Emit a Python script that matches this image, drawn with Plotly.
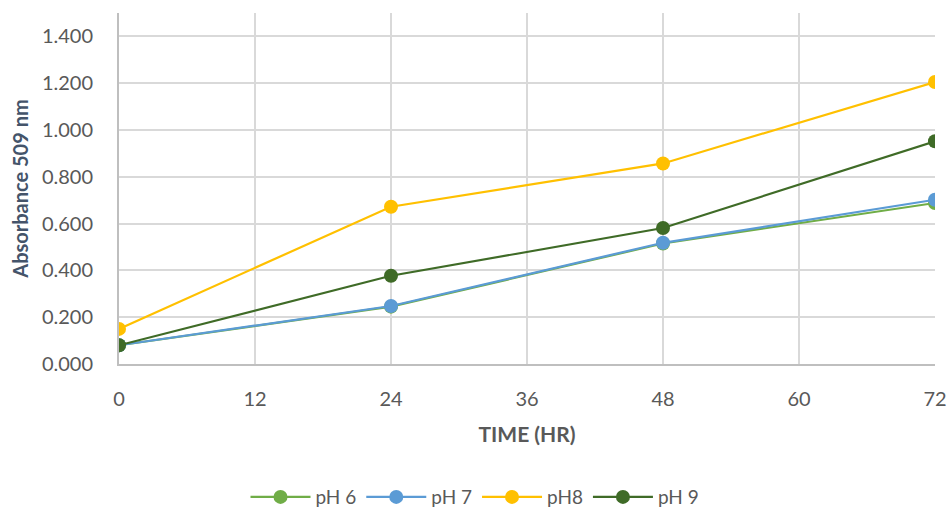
import plotly.graph_objects as go

time_hr = [0, 24, 48, 72]
ph6 = [0.080, 0.245, 0.515, 0.688]
ph7 = [0.080, 0.248, 0.518, 0.702]
ph8 = [0.150, 0.672, 0.857, 1.205]
ph9 = [0.080, 0.377, 0.581, 0.952]

series_names = ["pH 6", "pH 7", "pH8", "pH 9"]
series_values = [ph6, ph7, ph8, ph9]
series_colors = ["#70AD47", "#5B9BD5", "#FFC000", "#3F6B27"]

x_ticks = [0, 12, 24, 36, 48, 60, 72]
y_ticks = [0.0, 0.2, 0.4, 0.6, 0.8, 1.0, 1.2, 1.4]

fig = go.Figure()
for name, vals, col in zip(series_names, series_values, series_colors):
    fig.add_trace(go.Scatter(
        x=time_hr, y=vals, name=name, mode="lines+markers",
        line=dict(color=col, width=2.2),
        marker=dict(color=col, size=14),
    ))

font_family = "Lato, Open Sans, sans-serif"
fig.update_layout(
    width=950, height=510,
    margin=dict(l=119, r=15, t=13, b=146, autoexpand=False),
    paper_bgcolor="white", plot_bgcolor="white",
    font=dict(family=font_family, color="#595959", size=20),
    legend=dict(orientation="h", xref="container", x=0.5, xanchor="center",
                y=-0.379, yanchor="middle",
                font=dict(size=19, color="#595959"), itemwidth=60, tracegroupgap=0),
    showlegend=True,
)
fig.update_xaxes(
    range=[0, 72], tickvals=x_ticks, ticktext=[str(t) for t in x_ticks],
    showgrid=True, gridcolor="#D9D9D9", gridwidth=1.5,
    showline=True, linecolor="#BFBFBF", linewidth=2, zeroline=False,
    ticks="", ticklabelstandoff=16, tickfont=dict(size=20),
    title=dict(text="<b>TIME (HR)</b>", font=dict(size=21, color="#595959"), standoff=18),
)
fig.update_yaxes(
    range=[0, 1.5], tickvals=y_ticks, ticktext=[f"{v:.3f}" for v in y_ticks],
    showgrid=True, gridcolor="#D9D9D9", gridwidth=1.5,
    showline=True, linecolor="#BFBFBF", linewidth=2, zeroline=False,
    ticks="", ticklabelstandoff=20, tickfont=dict(size=20),
    title=dict(text="<b>Absorbance 509 nm</b>", font=dict(size=20, color="#44546A"), standoff=8),
)

fig.write_html("out.html")
